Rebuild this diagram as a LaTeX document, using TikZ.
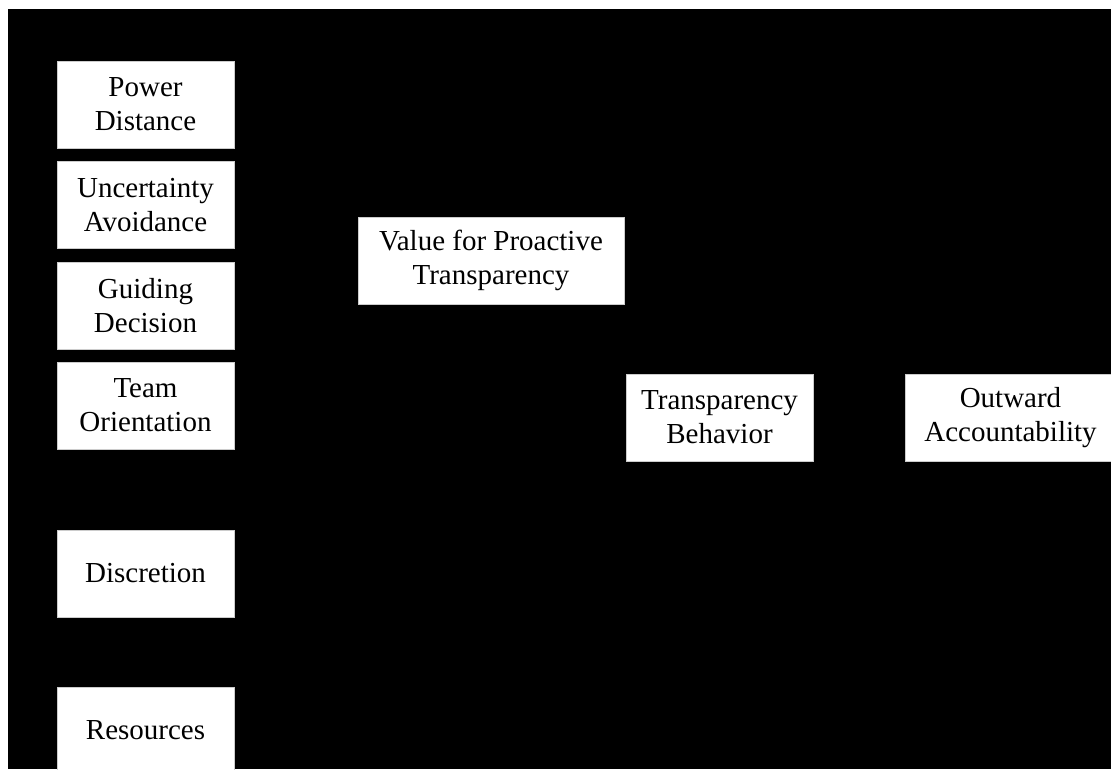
\documentclass[tikz,border=0pt]{standalone}
\usepackage{fontspec}
\setmainfont{Liberation Serif}
\usetikzlibrary{positioning}

\tikzset{
  factor/.style={rectangle, fill=white, draw=gray!40, line width=0.2pt, align=center,
    minimum width=3.54cm, minimum height=1.74cm, inner sep=0pt,
    font=\fontsize{16.5}{19.5}\selectfont},
}

\begin{document}
\begin{tikzpicture}[x=0.02cm, y=-0.02cm]
                                \useasboundingbox (0,0) rectangle (1111,769);
                                \fill[white] (0,0) rectangle (1111,769);
                                \fill[black] (8,9) rectangle (1111,769);
                                \begin{scope}
                                \clip (0,0) rectangle (1111,769);
                                \node[factor] (PD) at (145.5,104.5) {Power\\Distance};
                                \node[factor] (UA) at (145.5,205) {Uncertainty\\Avoidance};
                                \node[factor] (GD) at (145.5,305.5) {Guiding\\Decision};
                                \node[factor] (TO) at (145.5,405.5) {Team\\Orientation};
                                \node[factor] (DI) at (145.5,573.5) {Discretion};
                                \node[factor] (RE) at (145.5,730.5) {Resources};
                                \node[factor, minimum width=5.32cm] (VPT) at (491,260.5) {Value for Proactive\\Transparency};
                                \node[factor, minimum width=3.74cm] (TB) at (719.5,417.5) {Transparency\\Behavior};
                                \node[factor, minimum width=4.22cm] (OA) at (1010.5,417.5) {Outward\\Accountability};
                                \end{scope}
                            \end{tikzpicture}
\end{document}
